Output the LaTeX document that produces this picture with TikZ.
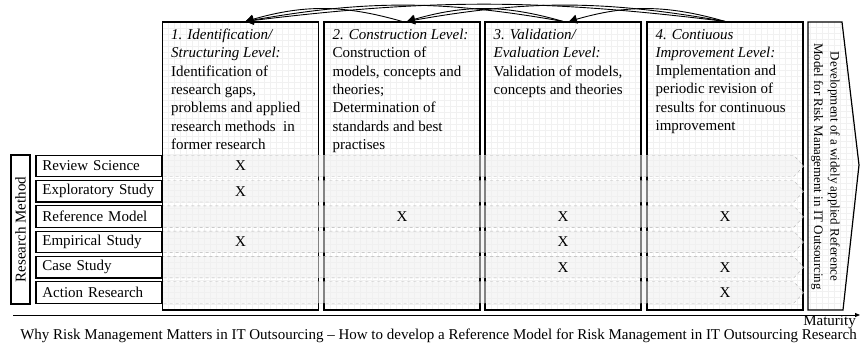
\documentclass[tikz,border=0pt]{standalone}
\usepackage{fontspec}
\setmainfont{Liberation Serif}
\usetikzlibrary{arrows.meta,shapes.symbols}

\begin{document}
\begin{tikzpicture}[x=1pt, y=1pt,
    every node/.style={font=\fontsize{15}{18.3}\selectfont},
    rejilla/.style={path picture={\draw[gray!11, line width=0.15pt]
        (path picture bounding box.south west) grid[step=6pt]
        (path picture bounding box.north east);}},
    nivel/.style={draw, line width=1.2pt, fill=white, rejilla,
        minimum width=156pt, minimum height=288pt, inner sep=0pt},
    metodo/.style={draw, line width=1.2pt, fill=white, minimum width=126pt,
        minimum height=21.5pt, text width=113pt, inner xsep=6.5pt, inner ysep=0pt,
        align=left, anchor=east},
    banda/.style={signal, signal to=east, signal pointer angle=94, draw=gray!60,
        dashed, fill=gray!12, fill opacity=0.55, minimum width=641pt,
        minimum height=21.5pt, inner sep=0pt, anchor=west},
    desc/.style={anchor=north west, inner sep=0pt, align=left},
    retro/.style={-{Triangle[length=8pt,width=9pt]}, line width=0.9pt}]
  \useasboundingbox (0,0) rectangle (860,345);
  % the four levels
  \node[nivel] (lvl1) at (240.5,179) {};
  \node[nivel] (lvl2) at (402,179) {};
  \node[nivel] (lvl3) at (563,179) {};
  \node[nivel] (lvl4) at (725,179) {};
  \node[desc] (d1) at ([xshift=9pt, yshift=-7.5pt]lvl1.north west)
    {\textit{1. Identification/}\\\textit{Structuring Level:}\\Identification of\\research gaps,\\problems and applied\\research methods\ \ in\\former research};
  \node[desc] (d2) at ([xshift=9pt, yshift=-7.5pt]lvl2.north west)
    {\textit{2. Construction Level:}\\Construction of\\models, concepts and\\theories;\\Determination of\\standards and best\\practises};
  \node[desc] (d3) at ([xshift=9pt, yshift=-7.5pt]lvl3.north west)
    {\textit{3. Validation/}\\\textit{Evaluation Level:}\\Validation of models,\\concepts and theories};
  \node[desc] (d4) at ([xshift=9pt, yshift=-7.5pt]lvl4.north west)
    {\textit{4. Contiuous}\\\textit{Improvement Level:}\\Implementation and\\periodic revision of\\results for continuous\\improvement};
  % goal
  \draw[line width=1.2pt, fill=white, rejilla]
    (808,323) -- (842,323) -- (859,180) -- (843,35) -- (808,35) -- cycle;
  \node[rotate=-90, align=center, inner sep=0pt, font=\fontsize{13}{16.5}\selectfont] (meta) at (825.5,178.5)
    {Development of a widely applied Reference\\Model for Risk Management in IT Outsourcing};
  % research methods
  \foreach \i in {1,...,6}{
    \pgfmathsetmacro\y{179-25.3*(\i-1)}
    \node[banda] (b\i) at (162.5,\y) {};
  }
  \foreach \txt [count=\i] in {Review Science,Exploratory Study,Reference Model,Empirical Study,Case Study,Action Research}
    \node[metodo] (m\i) at (b\i.west) {\txt};
  \node[draw, line width=1.2pt, rotate=90, minimum width=149pt, minimum height=19pt,
    inner sep=0pt] (rm) at (20.5,115.5) {Research Method};
  \foreach \c/\r in {1/1,1/2,2/3,3/3,4/3,1/4,3/4,3/5,4/5,4/6}
    \node (x\c\r) at (lvl\c |- b\r) {X};
  % feedback
  \draw[retro] (lvl2.north) to[bend right=16] ([xshift=5pt]lvl1.north);
  \draw[retro] (lvl3.north) to[bend right=16] ([xshift=5pt]lvl2.north);
  \draw[retro] (lvl4.north) to[bend right=16] ([xshift=6pt]lvl3.north);
  \draw[retro] (lvl3.north) to[bend right=10] ([xshift=5pt]lvl1.north);
  \draw[retro] (lvl4.north) to[bend right=10] ([xshift=5pt]lvl2.north);
  \draw[retro] (lvl4.north) to[bend right=7] ([xshift=5pt]lvl1.north);
  % maturity axis
  \coordinate (ax0) at (13,30);
  \coordinate (ax1) at (860,30);
  \draw[-{Triangle[length=5pt,width=4pt]}, line width=0.8pt] (ax0) -- (ax1);
  \node[anchor=base east, inner sep=0pt] (mat) at (856,19) {Maturity};
  \node[anchor=base, inner sep=0pt] (cap) at (438.5,5)
    {Why Risk Management Matters in IT Outsourcing -- How to develop a Reference Model for Risk Management in IT Outsourcing Research};
\end{tikzpicture}
\end{document}
